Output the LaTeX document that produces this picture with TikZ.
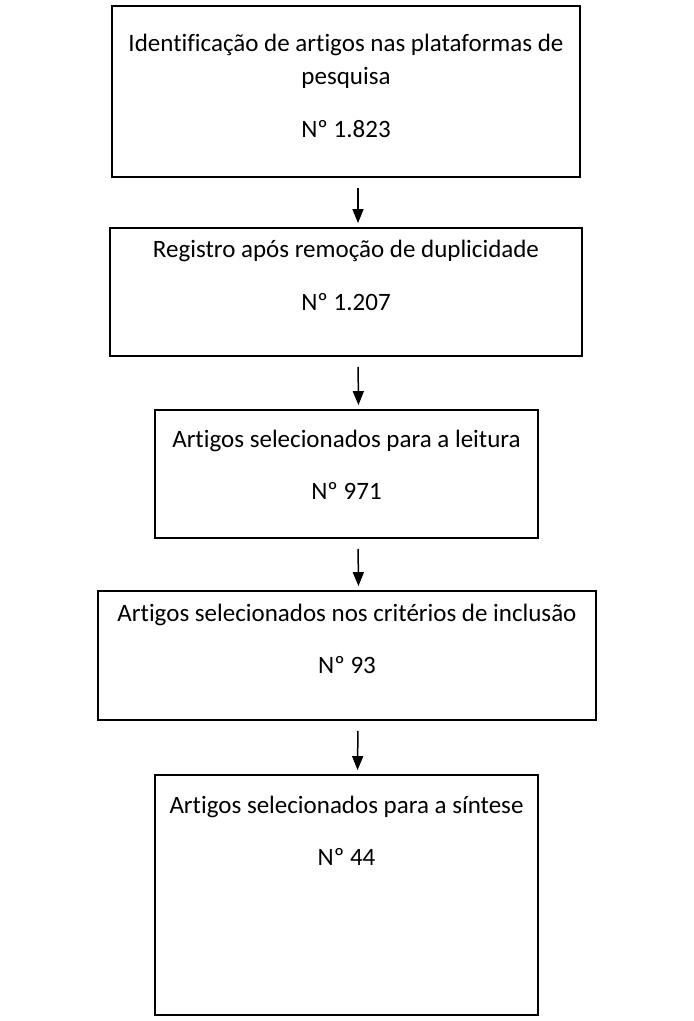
\documentclass[tikz,border=0pt]{standalone}
\usepackage{fontspec}
\setmainfont{Carlito}[Ligatures=NoCommon]
\usetikzlibrary{arrows.meta, positioning}

\begin{document}
\begin{tikzpicture}[x=1pt, y=-1pt,
	caixa/.style={draw, line width=1.8pt, inner sep=0pt},
	texto/.style={font=\fontsize{25}{33}\selectfont, align=center, inner sep=0pt},
	seta/.style={-{Triangle[length=14pt, width=11pt]}, line width=1.5pt, shorten <=10pt, shorten >=4pt}
	]
	\useasboundingbox (0,0) rectangle (694,1021);
	% etapas
	\node[caixa, minimum width=468pt, minimum height=171pt] (etapa1) at (346,91.5) {};
	\node[texto, below=29pt of etapa1.north] (rotulo1) {Identificação de artigos nas plataformas de\\pesquisa\\[20pt]Nº 1.823};
	\node[caixa, minimum width=472pt, minimum height=128pt] (etapa2) at (346,292) {};
	\node[texto, below=13pt of etapa2.north] (rotulo2) {Registro após remoção de duplicidade\\[20pt]Nº 1.207};
	\node[caixa, minimum width=383pt, minimum height=128pt] (etapa3) at (346.5,474) {};
	\node[texto, below=21pt of etapa3.north] (rotulo3) {Artigos selecionados para a leitura\\[19pt]Nº 971};
	\node[caixa, minimum width=498pt, minimum height=129pt] (etapa4) at (347,655.5) {};
	\node[texto, below=14pt of etapa4.north] (rotulo4) {Artigos selecionados nos critérios de inclusão\\[19pt]Nº 93};
	\node[caixa, minimum width=383pt, minimum height=240pt] (etapa5) at (346.5,895) {};
	\node[texto, below=22pt of etapa5.north] (rotulo5) {Artigos selecionados para a síntese\\[19pt]Nº 44};
	% setas
	\draw[seta] ([xshift=12pt]etapa1.south) -- ([xshift=12pt]etapa2.north);
	\draw[seta] ([xshift=12pt]etapa2.south) -- ([xshift=12pt]etapa3.north);
	\draw[seta] ([xshift=11.5pt]etapa3.south) -- ([xshift=11.5pt]etapa4.north);
	\draw[seta] ([xshift=11pt]etapa4.south) -- ([xshift=11pt]etapa5.north);
\end{tikzpicture}
\end{document}
